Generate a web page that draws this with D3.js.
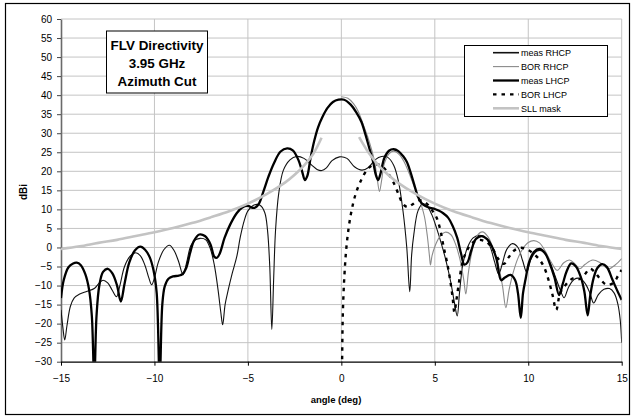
<!DOCTYPE html>
<html>
<head>
<meta charset="utf-8">
<script src="https://cdn.jsdelivr.net/npm/d3@7"></script>
<style>
  html, body { margin: 0; padding: 0; background: #fff; }
  svg { display: block; font-family: Arial, "Liberation Sans", sans-serif; }
</style>
</head>
<body>
<svg id="chart" width="631" height="417"></svg>
<script>
// Azimuth cut of the FLV antenna at 3.95 GHz: measured and BOR-simulated patterns, [angle deg, dBi]
const measRHCP = [
  [-15,-16.4],[-14.9,-21],[-14.8,-24.3],[-14.68,-20.5],[-14.5,-15.5],[-14.3,-13.3],[-14.0,-12.2],
  [-13.6,-11.5],[-13.2,-10.7],[-12.95,-9.3],[-12.75,-8.6],[-12.5,-9.3],[-12.25,-11.3],[-12.03,-12.9],
  [-11.85,-10],[-11.6,-5],[-11.3,-2.3],[-11.0,-1.4],[-10.75,-2.2],[-10.5,-4.8],[-10.3,-8],[-10.15,-9.8],
  [-10.0,-8.0],[-9.8,-4.0],[-9.5,-0.6],[-9.2,0.6],[-8.95,-0.8],[-8.7,-3.8],[-8.47,-7.2],[-8.28,-4],
  [-8.05,0.5],[-7.8,2.0],[-7.55,2.4],[-7.25,2.0],[-7.0,-0.5],[-6.8,-4.5],[-6.6,-11],[-6.45,-17],
  [-6.35,-20.3],[-6.22,-15],[-6.05,-11.1],[-5.85,-7],[-5.6,-2.5],[-5.4,2.9],[-5.2,7.0],[-5.0,9.6],
  [-4.7,11.1],[-4.35,11.1],[-4.1,9.2],[-3.95,4.5],[-3.83,-5],[-3.72,-21.5],[-3.62,-8],[-3.52,4.6],
  [-3.35,14.2],[-3.1,20.3],[-2.75,23.0],[-2.4,23.9],[-2.0,23.4],[-1.6,21.7],[-1.3,20.5],[-1.05,20.2],
  [-0.8,20.9],[-0.5,22.8],[-0.1,23.8],[0.3,23.4],[0.7,21.2],[1.1,20.3],[1.45,21.0],[1.8,23.0],
  [2.15,23.9],[2.5,23.6],[2.8,21.6],[3.05,17.5],[3.3,9.5],[3.5,0],[3.66,-11.6],[3.76,-2],[3.88,3.5],
  [4.1,9.6],[4.35,11.5],[4.6,10.8],[4.85,8.5],[5.1,5.0],[5.35,1.0],[5.6,-3.5],[5.85,-9],[6.05,-14.5],
  [6.2,-18],[6.32,-12],[6.5,-4.5],[6.75,0],[7.05,2.5],[7.4,3.2],[7.75,2.4],[8.0,-0.3],[8.2,-3.8],
  [8.42,-7.0],[8.6,-4.5],[8.85,-0.5],[9.15,1.0],[9.45,0],[9.7,-3.5],[9.92,-6.5],[10.15,-3],[10.45,-1],
  [10.75,-0.9],[11.05,-2.8],[11.4,-7],[11.7,-11],[11.92,-13.2],[12.15,-10.5],[12.45,-8.4],[12.75,-8.1],
  [13.05,-9.5],[13.3,-12],[13.5,-14.6],[13.75,-12.4],[14.05,-11.0],[14.35,-10.8],[14.6,-12.0],
  [14.8,-15],[14.92,-19],[15,-25]
];

const borRHCP = [
  [0,39.6],[0.35,39.2],[0.65,37.8],[0.9,35.8],[1.15,32.6],[1.4,29.2],[1.6,26.0],[1.78,22.5],[1.92,18.0],
  [2.04,14.7],[2.15,17.5],[2.3,22.0],[2.55,24.6],[2.8,25.3],[3.1,24.4],[3.35,22.6],[3.6,19.8],[3.85,16.6],
  [4.1,13.6],[4.3,10.8],[4.45,8.0],[4.6,3.0],[4.72,-2.5],[4.77,-4.6],[4.85,-2.2],[5.0,0.2],[5.25,2.7],
  [5.55,4.0],[5.85,3.4],[6.1,1.0],[6.35,-3.2],[6.55,-8.5],[6.66,-12.2],[6.8,-6.5],[7.0,-0.8],[7.25,3.0],
  [7.55,4.1],[7.85,2.8],[8.1,0],[8.4,-4.8],[8.62,-10],[8.8,-15.8],[8.98,-11],[9.2,-6.5],[9.45,-2.8],
  [9.7,-0.4],[10.0,1.3],[10.3,1.8],[10.6,1.2],[10.9,-0.9],[11.2,-3.6],[11.55,-6.0],[11.9,-4.0],
  [12.2,-3.3],[12.5,-4.3],[12.75,-5.6],[13.05,-4.4],[13.45,-3.3],[13.85,-4.0],[14.3,-5.6],[14.65,-4.6],
  [15,-2.9]
];

const measLHCP = [
  [-15,-13.3],[-14.85,-8.5],[-14.6,-5.2],[-14.35,-4.2],[-14.16,-4.0],[-13.95,-4.6],[-13.7,-7],[-13.5,-11],
  [-13.35,-18],[-13.22,-35],[-13.1,-18],[-12.95,-10],[-12.75,-6.4],[-12.5,-5.6],[-12.25,-6.8],[-12.0,-10],
  [-11.8,-14.2],[-11.6,-9.5],[-11.35,-4],[-11.05,-0.8],[-10.75,0.2],[-10.5,-0.6],[-10.25,-2.6],[-10.05,-6],
  [-9.88,-12],[-9.72,-35],[-9.58,-15],[-9.45,-10.2],[-9.25,-8.2],[-9.0,-7.6],[-8.7,-7.4],[-8.5,-7.0],
  [-8.3,-5.4],[-8.1,-1.6],[-7.9,1.6],[-7.6,3.4],[-7.3,3.0],[-7.0,0.8],[-6.8,-2.4],[-6.65,-2.7],[-6.5,-1.5],
  [-6.25,2.5],[-5.95,6.0],[-5.6,9.0],[-5.3,10.5],[-5.0,10.9],[-4.75,10.4],[-4.6,10.5],[-4.4,11.6],
  [-4.15,15.0],[-3.9,18.6],[-3.6,22.2],[-3.25,25.2],[-2.9,26.0],[-2.6,25.5],[-2.3,23.0],[-2.1,20.0],
  [-1.95,17.7],[-1.82,18.8],[-1.65,23.4],[-1.45,28.0],[-1.25,31.5],[-1.0,34.4],[-0.75,36.6],[-0.45,38.2],
  [-0.15,38.8],[0.15,38.8],[0.5,37.5],[0.8,35.5],[1.07,33.0],[1.3,29.5],[1.5,26.0],[1.7,22.5],[1.85,19.0],
  [1.97,17.7],[2.1,19.5],[2.3,23.5],[2.55,25.4],[2.8,25.8],[3.05,25.3],[3.3,24.0],[3.5,22.5],[3.7,19.8],
  [3.9,16.5],[4.1,13.3],[4.3,11.6],[4.5,10.9],[4.75,10.4],[5.0,10.1],[5.2,9.7],[5.45,9.0],[5.7,7.9],
  [5.95,5.7],[6.2,2.5],[6.4,-1.5],[6.58,-4.5],[6.75,-3.9],[6.95,-0.8],[7.2,2.2],[7.5,3.0],[7.8,2.2],
  [8.05,0.3],[8.3,-3.0],[8.55,-8.6],[8.75,-7.9],[9.05,-7.2],[9.3,-8.6],[9.45,-12],[9.6,-18.5],[9.72,-12],
  [9.85,-8.5],[10.05,-3.8],[10.3,-1.2],[10.6,-0.4],[10.9,-1.5],[11.15,-4.2],[11.4,-7.8],[11.65,-12.5],
  [11.85,-9.5],[12.05,-6.3],[12.3,-4.2],[12.55,-5.0],[12.8,-7.6],[13.0,-11.5],[13.18,-17.8],[13.32,-12.5],
  [13.5,-8.0],[13.7,-5.4],[13.95,-4.4],[14.2,-5.1],[14.5,-8.4],[14.75,-11.2],[15,-13.8]
];

const borLHCP = [
  [0,-45],[0.04,-30],[0.08,-17.3],[0.17,-6.8],[0.3,1.5],[0.5,8.5],[0.75,13.8],[1.05,17.6],[1.35,20.2],
  [1.65,21.6],[1.95,21.8],[2.25,21.0],[2.5,19.5],[2.77,17.3],[3.04,14.2],[3.3,11.4],[3.55,10.6],
  [3.8,11.3],[4.15,12.4],[4.5,11.8],[4.85,9.8],[5.1,7.8],[5.3,4.5],[5.47,0.2],[5.65,-3.8],[5.82,-8.5],
  [5.95,-13],[6.05,-17],[6.15,-14],[6.3,-9],[6.48,-4],[6.7,-1.0],[7.0,1.2],[7.4,2.0],[7.8,1.3],
  [8.1,-0.4],[8.4,-3.0],[8.7,-4.3],[8.95,-2.6],[9.25,-0.8],[9.6,-0.1],[9.9,-0.4],[10.25,-1.5],
  [10.6,-3.2],[10.85,-5.2],[11.1,-8.8],[11.3,-12.5],[11.5,-16.4],[11.7,-12],[11.9,-10.5],[12.15,-9.0],
  [12.45,-8.0],[12.75,-8.3],[13.0,-7.2],[13.3,-5.6],[13.55,-6.4],[13.85,-8.3],[14.2,-9.8],[14.55,-9.3],
  [14.8,-7.5],[15,-5.9]
];

// Sidelobe-level mask, drawn as two branches either side of the main beam
const sllMaskLeft = [
  [-15,-0.4],[-14,0.3],[-13,1.2],[-12,2.0],[-11,3.0],[-10,4.0],[-9,5.1],[-8,6.4],[-7,7.9],[-6,9.5],
  [-5,11.5],[-4,14.0],[-3,17.1],[-2.5,19.1],[-2,21.5],[-1.5,24.6],[-1.06,28.8]
];
const sllMaskRight = [
  [0.95,29.0],[1.5,24.6],[2,21.5],[2.5,19.1],[3,17.1],[4,14.0],[5,11.5],[6,9.5],[7,7.9],[8,6.4],
  [9,5.1],[10,4.0],[11,3.0],[12,2.0],[13,1.2],[14,0.3],[15,-0.4]
];

const xTicks = [-15, -10, -5, 0, 5, 10, 15];
const yTicks = [-30, -25, -20, -15, -10, -5, 0, 5, 10, 15, 20, 25, 30, 35, 40, 45, 50, 55, 60];
const titleLines = ["FLV Directivity", "3.95 GHz", "Azimuth Cut"];
const seriesNames = ["meas RHCP", "BOR RHCP", "meas LHCP", "BOR LHCP", "SLL mask"];

const svg = d3.select("#chart");
const W = 631, H = 417;
const plot = { left: 61, right: 621.7, top: 19, bottom: 361.7 };

const x = d3.scaleLinear().domain([-15, 15]).range([plot.left, plot.right]);
const y = d3.scaleLinear().domain([-30, 60]).range([plot.bottom, plot.top]);

// chart frame
svg.append("rect").attr("x", 5.5).attr("y", 3.5).attr("width", 624).attr("height", 411)
  .attr("fill", "#fff").attr("stroke", "#000").attr("stroke-width", 1.2);

// gridlines
const grid = svg.append("g");
grid.selectAll("line.h").data(yTicks.filter(v => v > -30)).join("line")
  .attr("x1", plot.left).attr("x2", plot.right)
  .attr("y1", d => y(d)).attr("y2", d => y(d))
  .attr("stroke", "#c4c4c4").attr("stroke-width", 1);
grid.selectAll("line.v").data(xTicks.filter(v => v > -15)).join("line")
  .attr("y1", plot.top).attr("y2", plot.bottom)
  .attr("x1", d => x(d)).attr("x2", d => x(d))
  .attr("stroke", "#c4c4c4").attr("stroke-width", 1);

// axes
const yAxis = svg.append("g").attr("transform", `translate(${plot.left},0)`)
  .call(d3.axisLeft(y).tickValues(yTicks).tickSize(4).tickPadding(5).tickSizeOuter(0));
const xAxis = svg.append("g").attr("transform", `translate(0,${plot.bottom})`)
  .call(d3.axisBottom(x).tickValues(xTicks).tickSize(4).tickPadding(9).tickSizeOuter(0));
[yAxis, xAxis].forEach(g => {
  g.selectAll("text").attr("font-size", 10).attr("fill", "#000")
    .attr("font-family", "Arial, 'Liberation Sans', sans-serif");
});
yAxis.select(".domain").attr("stroke", "#6a6a6a").attr("stroke-width", 1.6);
yAxis.selectAll(".tick line").attr("stroke", "#444");
xAxis.select(".domain").attr("stroke", "#000").attr("stroke-width", 1.3);
xAxis.selectAll(".tick line").attr("stroke", "#000");

// axis titles
svg.append("text").attr("x", 336).attr("y", 403).attr("text-anchor", "middle")
  .attr("font-size", 9.5).attr("font-weight", "bold").text("angle (deg)");
svg.append("text").attr("transform", "translate(27,192) rotate(-90)").attr("text-anchor", "middle")
  .attr("font-size", 10).attr("font-weight", "bold").text("dBi");

// series
svg.append("clipPath").attr("id", "plotClip").append("rect")
  .attr("x", plot.left).attr("y", plot.top)
  .attr("width", plot.right - plot.left).attr("height", plot.bottom - plot.top);

const line = d3.line().x(d => x(d[0])).y(d => y(d[1])).curve(d3.curveCatmullRom.alpha(0.5));
const series = svg.append("g").attr("clip-path", "url(#plotClip)");

const styles = {
  "meas RHCP": { stroke: "#111", width: 1.1, dash: null },
  "BOR RHCP": { stroke: "#8a8a8a", width: 1.1, dash: null },
  "meas LHCP": { stroke: "#000", width: 2.3, dash: null },
  "BOR LHCP": { stroke: "#000", width: 2.4, dash: "3.5,5" },
  "SLL mask": { stroke: "#c3c3c3", width: 2.6, dash: null }
};

function drawSeries(data, name) {
  const s = styles[name];
  series.append("path").datum(data).attr("d", line)
    .attr("fill", "none").attr("stroke", s.stroke).attr("stroke-width", s.width)
    .attr("stroke-dasharray", s.dash).attr("stroke-linejoin", "round");
}
drawSeries(measRHCP, "meas RHCP");
drawSeries(borRHCP, "BOR RHCP");
drawSeries(measLHCP, "meas LHCP");
drawSeries(borLHCP, "BOR LHCP");
drawSeries(sllMaskLeft, "SLL mask");
drawSeries(sllMaskRight, "SLL mask");

// title box
const tb = svg.append("g");
tb.append("rect").attr("x", 106.5).attr("y", 31).attr("width", 101).attr("height", 62)
  .attr("fill", "#fff").attr("stroke", "#000").attr("stroke-width", 1);
tb.selectAll("text").data(titleLines).join("text")
  .attr("x", 157).attr("y", (d, i) => 49.5 + i * 18.2).attr("text-anchor", "middle")
  .attr("font-size", 13.4).attr("font-weight", "bold").text(d => d);

// legend
const lg = svg.append("g");
lg.append("rect").attr("x", 464.5).attr("y", 45.5).attr("width", 143).attr("height", 71)
  .attr("fill", "#fff").attr("stroke", "#000").attr("stroke-width", 1);
seriesNames.forEach((name, i) => {
  const cy = 52.7 + i * 13.9;
  const s = styles[name];
  lg.append("line").attr("x1", 493).attr("x2", 519).attr("y1", cy).attr("y2", cy)
    .attr("stroke", s.stroke).attr("stroke-width", name === "meas RHCP" ? 1.6 : s.width)
    .attr("stroke-dasharray", s.dash);
  lg.append("text").attr("x", 521).attr("y", cy + 3.3).attr("font-size", 9).text(name);
});
</script>
</body>
</html>
